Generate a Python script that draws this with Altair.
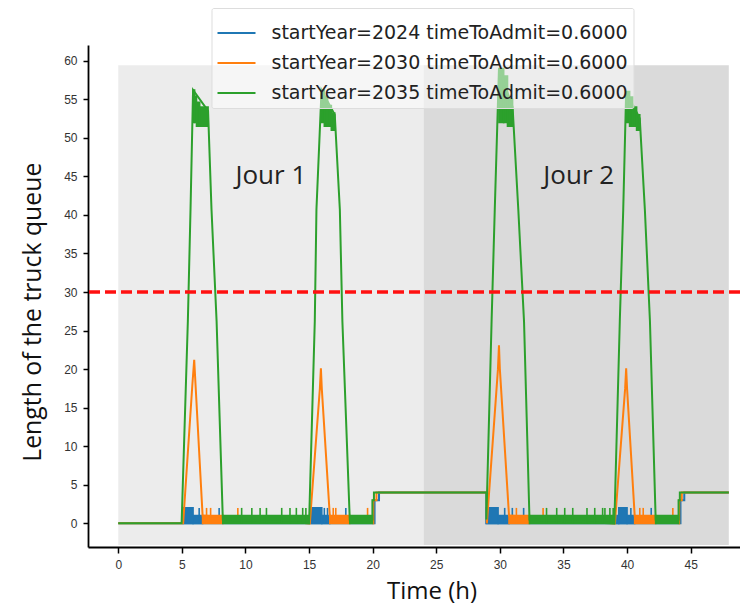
import altair as alt
import pandas as pd

# ---------------- data ----------------
series_labels = [
    "startYear=2024 timeToAdmit=0.6000",
    "startYear=2030 timeToAdmit=0.6000",
    "startYear=2035 timeToAdmit=0.6000",
]
series_colors = ["#1f77b4", "#ff7f0e", "#2ca02c"]

# main trajectory of each series (time in h, queue length)
t_2024 = [0, 5.1, 20.15, 20.15, 20.5, 20.5, 28.94, 28.94, 44.2, 44.2, 44.5, 44.5, 48]
q_2024 = [0, 0, 0, 3, 3, 4, 4, 0, 0, 3, 3, 4, 4]

t_2030 = [0, 5.1, 5.83, 5.97, 6.07, 6.63, 15.06, 15.85, 15.93, 16.0, 16.63, 20.05, 20.05,
          20.3, 20.3, 28.98, 28.98, 29.85, 29.93, 30.0, 30.72, 39.04, 39.85, 39.93, 40.0,
          40.6, 44.1, 44.1, 44.3, 44.3, 48]
q_2030 = [0, 0, 18.1, 21.2, 18.1, 1, 0, 17.5, 20.1, 17.5, 1, 0, 3,
          3, 4, 4, 0, 20, 23.1, 20, 1, 0, 17.5, 20.1, 17.5,
          1, 0, 3, 3, 4, 4]

t_2035 = [0, 4.98, 5.47, 5.68, 5.88, 7.06, 7.33, 7.73, 8.22, 15.0, 15.45, 15.58, 15.98,
          17.02, 17.42, 17.62, 18.2, 19.98, 19.98, 20.1, 20.1, 28.94, 28.94, 29.35, 29.6,
          29.93, 31.0, 31.45, 31.9, 32.33, 39.0, 39.43, 39.7, 39.93, 41.0, 41.4, 41.8,
          42.25, 44.05, 44.05, 44.15, 44.15, 48]
q_2035 = [0, 0, 26.2, 40.7, 56.2, 53.5, 40.7, 26.2, 0.5, 0, 26.2, 40.7, 56.2,
          53, 40.7, 26.2, 0.5, 0.5, 3, 3, 4, 4, 0.5, 26.2, 40.7,
          59, 54, 40.7, 26.2, 0.5, 0, 26.2, 40.7, 56, 52.5, 40.7, 26.2,
          0.5, 0.5, 3, 3, 4, 4]

# dense oscillation envelopes (series index, t start, t end, low, high)
band_series = [0, 0, 0, 0, 0, 0, 0, 0, 0,
               1, 1, 1, 1,
               2, 2, 2, 2,
               2, 2, 2, 2, 2, 2, 2, 2, 2, 2, 2, 2, 2, 2, 2]
band_t0 = [5.1, 5.88, 15.2, 16.0, 28.94, 29.86, 39.2, 39.35, 40.0,
           6.63, 16.63, 30.72, 40.6,
           8.22, 18.2, 32.33, 42.25,
           5.88, 6.0, 6.15, 6.4, 15.98, 16.2, 16.45, 16.75, 29.93, 30.3, 30.6,
           39.93, 40.2, 40.45, 40.75]
band_t1 = [5.88, 6.63, 16.0, 16.63, 29.86, 30.72, 39.35, 40.0, 40.6,
           8.22, 18.2, 32.33, 42.25,
           15.0, 19.98, 39.0, 44.05,
           6.0, 6.15, 6.4, 7.06, 16.2, 16.45, 16.75, 17.02, 30.3, 30.6, 31.0,
           40.2, 40.45, 40.75, 41.0]
band_lo = [0, 0, 0, 0, 0, 0, 0, 0, 0,
           0, 0, 0, 0,
           0, 0, 0, 0,
           52, 52, 51.5, 51.5, 52, 51.5, 51.5, 51, 52, 52, 51.5,
           52, 51.5, 51.5, 51]
band_hi = [2, 1, 2, 1, 2, 1, 1, 2, 1,
           1, 1, 1, 1,
           1, 1, 1, 1,
           56.2, 55.4, 54.6, 54.0, 56.2, 55.3, 54.2, 53.2, 59, 58, 55,
           56, 55.3, 54, 53]

# short spikes up to 2
spike_2024 = [6.36, 7.93, 16.2, 16.45, 17.89, 30.38, 30.98, 31.87, 40.3, 41.9]
spike_2030 = [6.94, 7.26, 9.4, 16.9, 17.1, 19.6, 31.3, 33.4, 41.0, 41.27, 43.6]
spike_2035 = [9.7, 10.5, 11.15, 11.65, 12.85, 13.5, 14.0, 14.5, 14.75, 33.67, 34.47,
              35.1, 35.73, 36.85, 37.46, 38.08, 38.26, 38.65, 38.91]

# day backgrounds
bg_t0 = [0, 24]
bg_t1 = [24, 48]
bg_lo = [-2.8, -2.8]
bg_hi = [59.4, 59.4]
bg_fill = ["#ececec", "#dadada"]

threshold = [30]

note_text = ["Jour 1", "Jour 2"]
note_t = [12, 36.2]
note_q = [44, 44]

x_ticks = [0, 5, 10, 15, 20, 25, 30, 35, 40, 45]
y_ticks = [0, 5, 10, 15, 20, 25, 30, 35, 40, 45, 50, 55, 60]

# ---------------- build tables ----------------
traj = [(t_2024, q_2024), (t_2030, q_2030), (t_2035, q_2035)]
spikes = [spike_2024, spike_2030, spike_2035]

bands = pd.DataFrame({"s": band_series, "t0": band_t0, "t1": band_t1,
                      "lo": band_lo, "hi": band_hi})
bg = pd.DataFrame({"t0": bg_t0, "t1": bg_t1, "lo": bg_lo, "hi": bg_hi, "fill": bg_fill})
notes = pd.DataFrame({"text": note_text, "t": note_t, "q": note_q})
thr = pd.DataFrame({"q": threshold})

xs = alt.Scale(domain=[-2.38, 48.88], nice=False, zero=False)
ys = alt.Scale(domain=[-3.07, 62.04], nice=False, zero=False)

XAX = alt.Axis(values=x_ticks, title="Time (h)", grid=False, titleX=343.5, titleY=51.5,
               titleBaseline="alphabetic", titleAlign="center", titleFontSize=24)
YAX = alt.Axis(values=y_ticks, title="Length of the truck queue", grid=False,
               titleX=-48, titleY=266.7, titleAngle=270, titleBaseline="alphabetic",
               titleAlign="center")

color_scale = alt.Scale(domain=series_labels, range=series_colors)

layers = []
layers.append(
    alt.Chart(bg).mark_rect().encode(
        x=alt.X("t0:Q", scale=xs, axis=XAX),
        x2="t1:Q",
        y=alt.Y("lo:Q", scale=ys, axis=YAX),
        y2="hi:Q",
        color=alt.Color("fill:N", scale=None),
    )
)

for k in range(3):
    c = series_colors[k]
    bk = bands[bands["s"] == k]
    layers.append(
        alt.Chart(bk).mark_rect(color=c, stroke=c, strokeWidth=1.6).encode(
            x=alt.X("t0:Q", scale=xs, axis=XAX),
            x2="t1:Q",
            y=alt.Y("lo:Q", scale=ys, axis=YAX),
            y2="hi:Q",
        )
    )
    tt, qq = traj[k]
    ld = pd.DataFrame({"t": tt, "q": qq, "i": list(range(len(tt))),
                       "label": [series_labels[k]] * len(tt)})
    layers.append(
        alt.Chart(ld).mark_line(strokeWidth=2).encode(
            x=alt.X("t:Q", scale=xs, axis=XAX),
            y=alt.Y("q:Q", scale=ys, axis=YAX),
            order="i:Q",
            color=alt.Color("label:N", scale=color_scale,
                            legend=alt.Legend(title=None, orient="none",
                                              legendX=123.5, legendY=-37)),
        )
    )
    sp = pd.DataFrame({"t": spikes[k], "lo": [0] * len(spikes[k]), "hi": [2] * len(spikes[k])})
    layers.append(
        alt.Chart(sp).mark_rule(color=c, strokeWidth=1.6).encode(
            x=alt.X("t:Q", scale=xs, axis=XAX),
            y=alt.Y("lo:Q", scale=ys, axis=YAX),
            y2="hi:Q",
        )
    )

layers.append(
    alt.Chart(notes).mark_text(font="Open Sans", fontSize=26, color="#222222",
                               align="center", baseline="alphabetic").encode(
        x=alt.X("t:Q", scale=xs, axis=XAX),
        y=alt.Y("q:Q", scale=ys, axis=YAX),
        text="text:N",
    )
)

layers.append(
    alt.Chart(thr).mark_rule(color="#ff1010", strokeWidth=3.6, strokeDash=[11, 5]).encode(
        y=alt.Y("q:Q", scale=ys, axis=YAX),
    )
)

chart = alt.layer(*layers).properties(
    width=652, height=502,
    autosize=alt.AutoSizeParams(type="none"),
    padding={"left": 80, "top": 37, "right": 0, "bottom": 58},
    background="white",
).configure_view(stroke=None).configure_axis(
    domainColor="black", domainWidth=1.8, tickColor="black", tickWidth=1.5,
    tickSize=5, labelFont="Liberation Sans", labelFontSize=12, labelColor="#333333",
    labelPadding=6, titleFont="Open Sans", titleFontSize=24.8, titleFontWeight="normal",
    titleColor="#111111",
).configure_axisX(tickSize=6, labelPadding=6).configure_legend(
    symbolType="stroke", symbolSize=1444, symbolStrokeWidth=2,
    labelFont="DejaVu Sans", labelFontSize=19, labelColor="#222222",
    labelOffset=15, rowPadding=0, padding=5,
    fillColor="rgba(255,255,255,0.5)", strokeColor="#dddddd", cornerRadius=2,
    labelLimit=0,
)

chart.save("out.html", embed_options={"renderer": "svg", "actions": False})
